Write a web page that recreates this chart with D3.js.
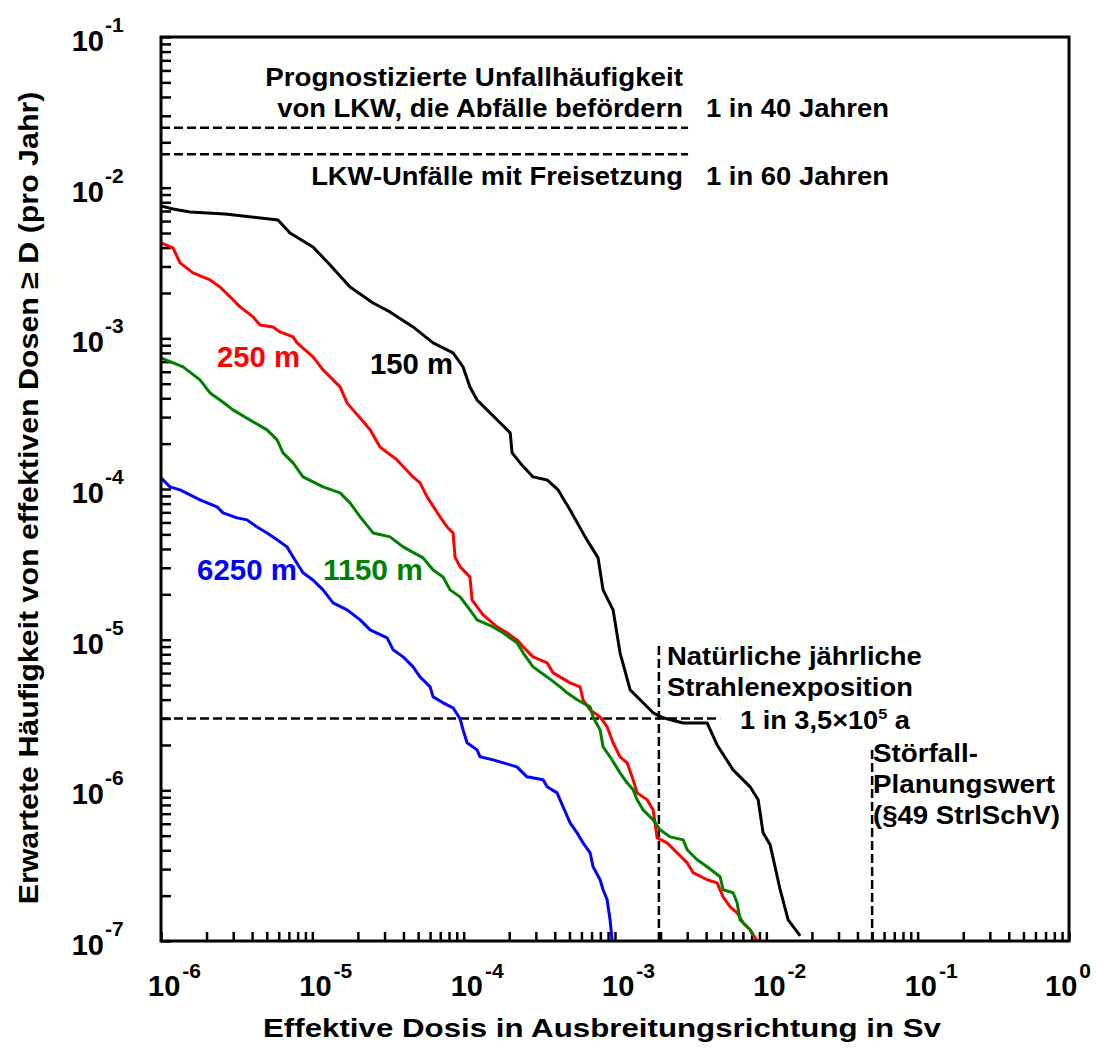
<!DOCTYPE html>
<html><head><meta charset="utf-8">
<script src="https://cdn.jsdelivr.net/npm/d3@7"></script>
<style>
body{margin:0;background:#fff}
text{font-family:"Liberation Sans",Arial,Helvetica,sans-serif;font-weight:bold}
</style>
</head><body>
<svg id="chart" width="1105" height="1048"></svg>
<script>
// ---------- data (dose in Sv, frequency per year) ----------
const series150 = [[1e-6,7.56e-3],[1.2e-6,7.22e-3],[1.555e-6,6.9e-3],[2.65e-6,6.69e-3],[5.93e-6,6.1e-3],[7.12e-6,5.0e-3],[1.01e-5,4.04e-3],[1.31e-5,3.07e-3],[1.775e-5,2.19e-3],[2.52e-5,1.717e-3],[3.26e-5,1.497e-3],[4.63e-5,1.19e-3],[6.28e-5,9.32e-4],[8.51e-5,8.0e-4],[9.91e-5,6.46e-4],[1.10e-4,4.76e-4],[1.226e-4,3.9e-4],[1.494e-4,3.2e-4],[1.74e-4,2.75e-4],[2.03e-4,2.36e-4],[2.09e-4,1.736e-4],[2.36e-4,1.49e-4],[2.875e-4,1.203e-4],[3.56e-4,1.149e-4],[4.21e-4,9.86e-5],[5.05e-4,7.26e-5],[6.35e-4,4.81e-5],[7.73e-4,3.49e-5],[8.34e-4,2.14e-5],[9.71e-4,1.577e-5],[1.08e-3,8.18e-6],[1.259e-3,4.64e-6],[1.465e-3,3.99e-6],[1.786e-3,3.27e-6],[2.08e-3,3.03e-6],[2.82e-3,2.8e-6],[4.06e-3,2.8e-6],[4.73e-3,2.0e-6],[6.03e-3,1.368e-6],[7.81e-3,1.055e-6],[8.83e-3,8.65e-7],[9.52e-3,5.22e-7],[1.06e-2,4.35e-7],[1.234e-2,2.19e-7],[1.394e-2,1.38e-7],[1.673e-2,1.083e-7]];
const series250 = [[1e-6,4.3e-3],[1.2e-6,3.98e-3],[1.336e-6,3.17e-3],[1.627e-6,2.72e-3],[2.11e-6,2.44e-3],[2.455e-6,2.19e-3],[2.86e-6,1.883e-3],[3.33e-6,1.616e-3],[4.06e-6,1.387e-3],[4.51e-6,1.227e-3],[5.5e-6,1.19e-3],[6.12e-6,1.103e-3],[7.46e-6,1.022e-3],[7.92e-6,9.32e-4],[1.01e-5,7.53e-4],[1.177e-5,6.17e-4],[1.525e-5,4.76e-4],[1.696e-5,3.73e-4],[1.858e-5,3.35e-4],[2.41e-5,2.47e-4],[2.8e-5,1.9e-4],[3.63e-5,1.56e-4],[4.63e-5,1.203e-4],[5.15e-5,1.098e-4],[5.73e-5,8.86e-5],[6.98e-5,6.53e-5],[7.77e-5,5.6e-5],[8.51e-5,5.11e-5],[8.77e-5,3.54e-5],[9.47e-5,3.04e-5],[1.1e-4,2.61e-5],[1.136e-4,1.837e-5],[1.343e-4,1.461e-5],[1.663e-4,1.216e-5],[1.936e-4,1.11e-5],[2.25e-4,9.97e-6],[2.47e-4,8.96e-6],[2.875e-4,7.69e-6],[3.56e-4,7.02e-6],[3.9e-4,6.02e-6],[5.05e-4,5.17e-6],[5.88e-4,4.86e-6],[6.15e-4,3.99e-6],[6.85e-4,3.42e-6],[7.97e-4,3.07e-6],[8.87e-4,2.64e-6],[9.71e-4,2.07e-6],[1.08e-3,1.669e-6],[1.202e-3,1.522e-6],[1.318e-3,1.174e-6],[1.4e-3,9.62e-7],[1.63e-3,8.65e-7],[1.786e-3,7.42e-7],[1.898e-3,4.84e-7],[2.21e-3,4.48e-7],[2.57e-3,3.85e-7],[3.0e-3,3.3e-7],[3.28e-3,2.84e-7],[4.06e-3,2.55e-7],[4.73e-3,2.43e-7],[5.18e-3,1.965e-7],[5.77e-3,1.687e-7],[6.41e-3,1.538e-7],[7.03e-3,1.32e-7],[7.81e-3,1.187e-7],[8.69e-3,1e-7]];
const series1150 = [[1e-6,7.41e-4],[1.398e-6,6.46e-4],[1.81e-6,5.3e-4],[2.11e-6,4.34e-4],[2.455e-6,3.9e-4],[2.99e-6,3.35e-4],[3.87e-6,2.87e-4],[5.02e-6,2.47e-4],[5.85e-6,2.12e-4],[6.4e-6,1.736e-4],[7.46e-6,1.49e-4],[8.68e-6,1.203e-4],[1.177e-5,1.033e-4],[1.525e-5,9.42e-5],[1.775e-5,8.09e-5],[2.07e-5,6.53e-5],[2.52e-5,5.11e-5],[3.26e-5,4.81e-5],[3.98e-5,4.13e-5],[5.39e-5,3.49e-5],[6.28e-5,2.9e-5],[7.31e-5,2.61e-5],[8.13e-5,2.14e-5],[9.47e-5,1.923e-5],[1.1e-4,1.577e-5],[1.226e-4,1.353e-5],[1.564e-4,1.216e-5],[1.82e-4,1.11e-5],[2.25e-4,9.53e-6],[2.47e-4,8.18e-6],[2.875e-4,6.6e-6],[3.56e-4,5.66e-6],[4.34e-4,4.86e-6],[4.82e-4,4.44e-6],[5.62e-4,3.99e-6],[6.85e-4,3.58e-6],[7.16e-4,3.07e-6],[7.97e-4,2.52e-6],[8.34e-4,1.943e-6],[9.28e-4,1.669e-6],[1.08e-3,1.306e-6],[1.202e-3,1.121e-6],[1.318e-3,1.008e-6],[1.4e-3,8.65e-7],[1.534e-3,7.42e-7],[1.786e-3,6.37e-7],[1.987e-3,5.47e-7],[2.31e-3,4.91e-7],[2.82e-3,4.69e-7],[3.0e-3,4.03e-7],[3.49e-3,3.46e-7],[4.06e-3,3.11e-7],[4.95e-3,2.67e-7],[5.18e-3,2.19e-7],[6.03e-3,2.09e-7],[6.41e-3,1.793e-7],[6.71e-3,1.38e-7],[7.81e-3,1.187e-7],[8.18e-3,1.083e-7]];
const series6250 = [[1e-6,1.185e-4],[1.147e-6,1.033e-4],[1.336e-6,9.86e-5],[1.81e-6,8.47e-5],[2.345e-6,7.61e-5],[2.57e-6,6.94e-5],[3.18e-6,6.43e-5],[3.7e-6,6.24e-5],[4.31e-6,5.6e-5],[5.02e-6,5.11e-5],[5.85e-6,4.6e-5],[6.8e-6,4.13e-5],[7.46e-6,3.54e-5],[8.68e-6,2.78e-5],[1.01e-5,2.49e-5],[1.177e-5,2.14e-5],[1.371e-5,1.754e-5],[1.696e-5,1.577e-5],[2.07e-5,1.353e-5],[2.41e-5,1.161e-5],[3.12e-5,1.028e-5],[3.42e-5,8.56e-6],[3.98e-5,7.69e-6],[4.63e-5,6.6e-6],[5.15e-5,5.66e-6],[6.0e-5,4.86e-6],[6.28e-5,4.17e-6],[7.31e-5,3.81e-6],[8.51e-5,3.53e-6],[9.47e-5,2.98e-6],[9.91e-5,2.52e-6],[1.053e-4,2.07e-6],[1.226e-4,1.856e-6],[1.283e-4,1.669e-6],[1.564e-4,1.593e-6],[2.25e-4,1.432e-6],[2.62e-4,1.229e-6],[3.35e-4,1.174e-6],[3.56e-4,1.055e-6],[4.14e-4,9.62e-7],[4.54e-4,7.77e-7],[5.05e-4,6.08e-7],[5.62e-4,5.22e-7],[6.15e-4,4.48e-7],[6.85e-4,3.85e-7],[7.16e-4,3.11e-7],[7.97e-4,2.55e-7],[8.34e-4,2.19e-7],[8.87e-4,1.877e-7],[9.28e-4,1.38e-7],[9.57e-4,1e-7]];

const seriesNames  = ["150 m", "250 m", "1150 m", "6250 m"];
const seriesColors = ["#000000", "#ff0000", "#008000", "#0000ff"];

// reference lines (dashed)
const hRefLines = [ {f: 0.025, d0: 1e-6, d1: 3.04e-3}, {f: 1/60, d0: 1e-6, d1: 3.04e-3}, {f: 3.0e-6, d0: 1e-6, d1: 4.95e-3} ];
const vRefLines = [ {d: 1.95e-3, f0: 1e-7, f1: 9.24e-6}, {d: 0.05, f0: 1e-7, f1: 1.97e-6} ];

const xTickExps = [-6, -5, -4, -3, -2, -1, 0];
const yTickExps = [-7, -6, -5, -4, -3, -2, -1];

const xTitle = "Effektive Dosis in Ausbreitungsrichtung in Sv";
const yTitle = "Erwartete Häufigkeit von effektiven Dosen \u2265 D (pro Jahr)";

// ---------- chart ----------
const svg = d3.select("#chart");
const L = 161, R = 1069, T = 37, B = 941;
const x = d3.scaleLog().domain([1e-6, 1]).range([L, R]);
const y = d3.scaleLog().domain([1e-7, 1e-1]).range([B, T]);

// ticks (inward)
const gx = svg.append("g").attr("transform", `translate(0,${B})`)
  .call(d3.axisBottom(x).tickValues(x.ticks()).tickSize(-9).tickFormat(""));
const gy = svg.append("g").attr("transform", `translate(${L},0)`)
  .call(d3.axisLeft(y).tickValues(y.ticks()).tickSize(-10).tickFormat(""));
[gx, gy].forEach(g => {
  g.select(".domain").remove();
  g.selectAll(".tick line").attr("stroke", "#000").attr("stroke-width", 2.5);
});

svg.append("clipPath").attr("id", "pc").append("rect")
  .attr("x", L).attr("y", T).attr("width", R - L).attr("height", B - T);

// dashed reference lines
const dash = "9,4";
svg.append("g").selectAll("line").data(hRefLines).join("line")
  .attr("x1", d => x(d.d0)).attr("x2", d => x(d.d1))
  .attr("y1", d => y(d.f)).attr("y2", d => y(d.f))
  .attr("stroke", "#000").attr("stroke-width", 2.5).attr("stroke-dasharray", dash);
svg.append("g").selectAll("line").data(vRefLines).join("line")
  .attr("x1", d => x(d.d)).attr("x2", d => x(d.d))
  .attr("y1", d => y(d.f0)).attr("y2", d => y(d.f1))
  .attr("stroke", "#000").attr("stroke-width", 2.5).attr("stroke-dasharray", dash);

// curves
const line = d3.line().x(d => x(d[0])).y(d => y(d[1]));
const curves = [
  {data: series150, color: seriesColors[0]},
  {data: series6250, color: seriesColors[3]},
  {data: series250, color: seriesColors[1]},
  {data: series1150, color: seriesColors[2]}
];
svg.append("g").attr("clip-path", "url(#pc)").selectAll("path").data(curves).join("path")
  .attr("d", d => line(d.data)).attr("fill", "none")
  .attr("stroke", d => d.color).attr("stroke-width", 3).attr("stroke-linejoin", "round");

// frame
svg.append("rect").attr("x", L).attr("y", T).attr("width", R - L).attr("height", B - T)
  .attr("fill", "none").attr("stroke", "#000").attr("stroke-width", 3);

// tick labels
const yl = svg.append("g");
yTickExps.forEach(e => {
  const py = y(Math.pow(10, e));
  yl.append("text").attr("x", 104).attr("y", py + 14).attr("text-anchor", "end")
    .attr("font-size", 29).text("10");
  yl.append("text").attr("x", 105).attr("y", py - 5).attr("font-size", 21)
    .text(e === 0 ? "0" : "-" + Math.abs(e));
});
const xl = svg.append("g");
xTickExps.forEach(e => {
  const px = x(Math.pow(10, e));
  const x0 = e === 0 ? px - 24 : px - 13;
  const t = xl.append("text").attr("x", x0).attr("y", 996).attr("font-size", 29).text("10");
  const w = t.node().getComputedTextLength();
  xl.append("text").attr("x", x0 + w + 2).attr("y", 978).attr("font-size", 21)
    .text(e === 0 ? "0" : "-" + Math.abs(e));
});

// text helper: fit to measured width
function label(str, tx, ty, w, size, anchor, color, rot) {
  const t = svg.append("text").attr("font-size", size).attr("text-anchor", anchor || "start")
    .attr("fill", color || "#000").text(str);
  const nat = t.node().getComputedTextLength();
  const s = w ? w / nat : 1;
  t.attr("transform", `translate(${tx},${ty})${rot ? " rotate(" + rot + ")" : ""} scale(${s},1)`);
  return t;
}

// axis titles
label(xTitle, 602, 1037, 678, 26, "middle");
label(yTitle, 38, 498, 813, 27, "middle", "#000", -90);

// annotations
const fs = 25;
label("Prognostizierte Unfallhäufigkeit", 683, 86, 418, fs, "end");
label("von LKW, die Abfälle befördern", 683, 117, 406, fs, "end");
label("1 in 40 Jahren", 706, 117, 183, fs, "start");
label("LKW-Unfälle mit Freisetzung", 683, 185, 372, fs, "end");
label("1 in 60 Jahren", 706, 185, 183, fs, "start");
label("Natürliche jährliche", 667, 665, 255, fs, "start");
label("Strahlenexposition", 667, 696, 246, fs, "start");
{
  const t = svg.append("text").attr("font-size", fs);
  t.append("tspan").text("1 in 3,5\u00d710");
  t.append("tspan").attr("font-size", 15).attr("dy", -10).text("5");
  t.append("tspan").attr("dy", 10).text(" a");
  const nat = t.node().getComputedTextLength();
  t.attr("transform", `translate(740,729) scale(${170 / nat},1)`);
}
label("Störfall-", 873, 762, 105, fs, "start");
label("Planungswert", 873, 793, 182, fs, "start");
label("(§49 StrlSchV)", 873, 824, 187, fs, "start");

// curve labels
label(seriesNames[1], 217, 367, 83, 29, "start", seriesColors[1]);
label(seriesNames[0], 370, 374, 83, 29, "start", seriesColors[0]);
label(seriesNames[3], 197, 580, 100, 29, "start", seriesColors[3]);
label(seriesNames[2], 323, 580, 100, 29, "start", seriesColors[2]);
</script>
</body></html>
